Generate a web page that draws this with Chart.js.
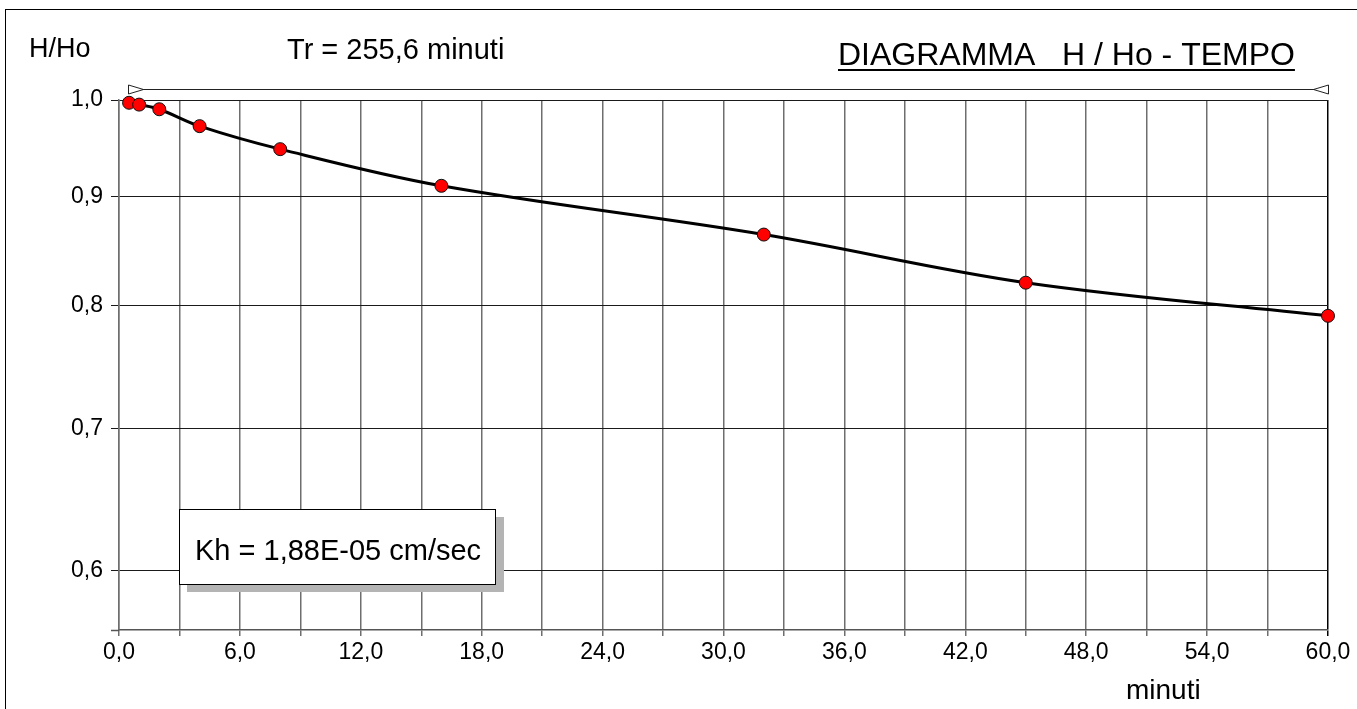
<!DOCTYPE html>
<html lang="it">
<head>
<meta charset="utf-8">
<title>Diagramma H/Ho - tempo</title>
<script src="https://cdn.jsdelivr.net/npm/chart.js@4.4.1/dist/chart.umd.min.js"></script>
<style>
    html, body { margin: 0; padding: 0; background: #fff; }
    #wrap { position: relative; width: 1357px; height: 709px; }
</style>
</head>
<body>
<div id="wrap"><canvas id="chartHHo" width="1357" height="709"></canvas></div>
<script>
// =============================================
// Dati della prova (letti dal diagramma)
// =============================================
const tempi = [0.5, 1, 2, 4, 8, 16, 32, 45, 60];                               // minuti
const rapportiH = [0.997, 0.995, 0.990, 0.972, 0.948, 0.911, 0.864, 0.820, 0.791]; // H/Ho
const tickTempi = [0, 3, 6, 9, 12, 15, 18, 21, 24, 27, 30, 33, 36, 39, 42, 45, 48, 51, 54, 57, 60];
const tickRapporti = [0.6, 0.7, 0.8, 0.9, 1.0];
const limitiTempo = [0, 60];
const limitiRapporto = [0.5623, 1.0];

const titolo = 'DIAGRAMMA   H / Ho - TEMPO';
const etichettaY = 'H/Ho';
const etichettaX = 'minuti';
const etichettaTr = 'Tr = 255,6 minuti';
const etichettaKh = 'Kh = 1,88E-05 cm/sec';

(function() {
    'use strict';

    const FONT = '"Liberation Sans", Arial, sans-serif';

    function virgola(v) {
        return v.toFixed(1).replace('.', ',');
    }

    // =============================================
    // Decorazioni (testi, freccia Tr, riquadro Kh)
    // =============================================
    const decorPlugin = {
        id: 'decor',
        beforeDraw(chart) {
            const ctx = chart.ctx;
            ctx.save();
            ctx.fillStyle = '#fff';
            ctx.fillRect(0, 0, chart.width, chart.height);
            ctx.restore();
        },
        afterDraw(chart) {
            const ctx = chart.ctx;
            const xs = chart.scales.x;
            const area = chart.chartArea;
            ctx.save();

            // cornice esterna
            ctx.strokeStyle = '#000';
            ctx.lineWidth = 1;
            ctx.strokeRect(5.5, 9.5, chart.width + 20, chart.height + 20);

            // testi in alto
            ctx.fillStyle = '#000';
            ctx.textAlign = 'left';
            ctx.textBaseline = 'alphabetic';
            ctx.font = '27px ' + FONT;
            ctx.fillText(etichettaY, 29, 57);
            ctx.font = '29px ' + FONT;
            ctx.fillText(etichettaTr, 287, 59);
            ctx.font = '32px ' + FONT;
            ctx.fillText(titolo, 838, 65);
            const wt = ctx.measureText(titolo).width;
            ctx.fillRect(838, 69, wt, 2);

            // freccia Tr
            const xa = Math.round(xs.getPixelForValue(tempi[0])) + 0.5;
            const xb = Math.round(xs.getPixelForValue(tempi[tempi.length - 1])) + 0.5;
            const ya = 89.5;
            ctx.strokeStyle = '#222';
            ctx.lineWidth = 1.2;
            ctx.beginPath();
            ctx.moveTo(xa, ya);
            ctx.lineTo(xb, ya);
            ctx.stroke();
            ctx.fillStyle = '#fff';
            ctx.lineWidth = 1;
            ctx.beginPath();
            ctx.moveTo(xa - 1, ya - 4.5);
            ctx.lineTo(xa + 14, ya);
            ctx.lineTo(xa - 1, ya + 4.5);
            ctx.closePath();
            ctx.fill();
            ctx.stroke();
            ctx.beginPath();
            ctx.moveTo(xb, ya - 4.5);
            ctx.lineTo(xb - 15, ya);
            ctx.lineTo(xb, ya + 4.5);
            ctx.closePath();
            ctx.fill();
            ctx.stroke();

            // prolungamento asse x a sinistra
            ctx.strokeStyle = '#555';
            ctx.lineWidth = 1.5;
            ctx.beginPath();
            ctx.moveTo(area.left - 8, area.bottom + 0.5);
            ctx.lineTo(area.left, area.bottom + 0.5);
            ctx.stroke();

            // riquadro Kh con ombra
            ctx.fillStyle = '#b4b4b4';
            ctx.fillRect(187, 517, 317, 75);
            ctx.fillStyle = '#fff';
            ctx.fillRect(179, 509, 317, 75);
            ctx.strokeStyle = '#000';
            ctx.lineWidth = 1;
            ctx.strokeRect(179.5, 509.5, 316, 75);
            ctx.fillStyle = '#000';
            ctx.font = '29px ' + FONT;
            ctx.fillText(etichettaKh, 195, 560);

            // titolo asse x
            ctx.font = '28px ' + FONT;
            ctx.fillText(etichettaX, 1126, 699);

            ctx.restore();
        }
    };

    // =============================================
    // Grafico
    // =============================================
    function initChart() {
        if (typeof Chart === 'undefined') {
            console.warn('Chart.js not loaded');
            return;
        }

        const punti = tempi.map((t, i) => ({ x: t, y: rapportiH[i] }));

        new Chart(document.getElementById('chartHHo').getContext('2d'), {
            type: 'line',
            data: {
                datasets: [{
                    data: punti,
                    borderColor: '#000',
                    borderWidth: 3,
                    tension: 0.35,
                    pointRadius: 6.5,
                    pointBackgroundColor: '#ff0000',
                    pointBorderColor: '#111',
                    pointBorderWidth: 1,
                    clip: false
                }]
            },
            options: {
                responsive: false,
                animation: false,
                layout: { padding: { top: 100, right: 29, left: 0, bottom: 0 } },
                plugins: {
                    legend: { display: false },
                    tooltip: { enabled: false }
                },
                scales: {
                    x: {
                        type: 'linear',
                        min: limitiTempo[0],
                        max: limitiTempo[1],
                        afterBuildTicks: s => { s.ticks = tickTempi.map(v => ({ value: v })); },
                        afterFit: s => { s.height = 79; },
                        grid: {
                            color: c => (c.tick && c.tick.value === 60) ? '#000' : '#6e6e6e',
                            lineWidth: 1.5,
                            tickLength: 6
                        },
                        border: { color: '#555', width: 1.5 },
                        ticks: {
                            autoSkip: false,
                            maxRotation: 0,
                            padding: 3,
                            color: '#000',
                            font: { family: FONT, size: 23 },
                            callback: v => (v % 6 === 0 ? virgola(v) : '')
                        }
                    },
                    y: {
                        type: 'logarithmic',
                        min: limitiRapporto[0],
                        max: limitiRapporto[1],
                        afterBuildTicks: s => { s.ticks = tickRapporti.map(v => ({ value: v })); },
                        afterFit: s => { s.width = 119; },
                        grid: {
                            color: '#1a1a1a',
                            lineWidth: 1,
                            tickLength: 8
                        },
                        border: { color: '#6e6e6e', width: 1.5 },
                        ticks: {
                            padding: 8,
                            color: '#000',
                            font: { family: FONT, size: 23 },
                            callback: v => virgola(v)
                        }
                    }
                }
            },
            plugins: [decorPlugin]
        });
    }

    if (document.readyState === 'loading') {
        document.addEventListener('DOMContentLoaded', initChart);
    } else {
        initChart();
    }
})();
</script>
</body>
</html>
